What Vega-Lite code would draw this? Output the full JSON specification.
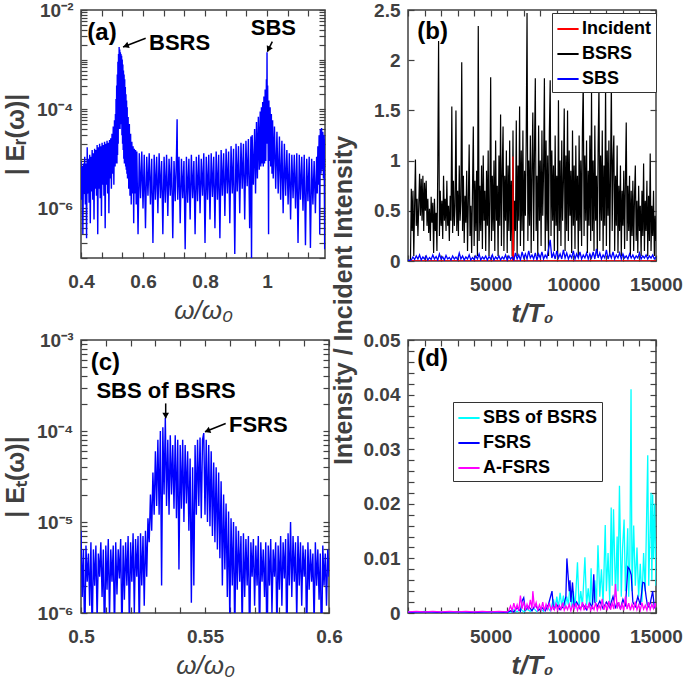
{
"$schema":"https://vega.github.io/schema/vega-lite/v6.json",
"padding":{"left":2,"top":0,"right":0,"bottom":0},
"config":{
 "font":"Liberation Sans",
 "view":{"stroke":"#404040","strokeWidth":1.5},
 "axis":{"ticks":true,"zindex":1,"labelFont":"Liberation Sans","labelFontSize":19,"labelFontWeight":"bold","labelColor":"#404040","tickColor":"#404040","tickSize":6,"offset":-6,"tickWidth":1.2,"tickOpacity":1,"domain":false,"grid":false,"titleFont":"Liberation Sans","titleFontSize":25,"titleFontWeight":"bold","titleColor":"#404040","labelFlush":false,"labelOverlap":false,"titlePadding":6},
 "axisX":{"labelPadding":14},
 "axisY":{"labelPadding":8},
 "legend":{"labelFont":"Liberation Sans","labelFontSize":18,"labelFontWeight":"bold","labelColor":"#000000","symbolType":"stroke","symbolStrokeWidth":2,"symbolSize":450,"strokeColor":"#333333","fillColor":"#ffffff","padding":4,"rowPadding":4,"labelOffset":2}
},
"datasets":{
"a":[{"x":0.4,"y":9e-6},{"x":0.402,"y":1.5e-6},{"x":0.404,"y":7e-6},{"x":0.406,"y":3e-7},{"x":0.408,"y":8e-6},{"x":0.41,"y":2e-6},{"x":0.412,"y":1.1e-5},{"x":0.414,"y":1.2e-6},{"x":0.416,"y":8e-6},{"x":0.418,"y":2.5e-7},{"x":0.42,"y":1.7e-5},{"x":0.422,"y":2e-6},{"x":0.424,"y":1e-5},{"x":0.426,"y":1.3e-6},{"x":0.428,"y":1.2e-5},{"x":0.43,"y":5e-7},{"x":0.432,"y":1.1e-5},{"x":0.434,"y":2.2e-6},{"x":0.436,"y":1.5e-5},{"x":0.438,"y":1.5e-6},{"x":0.44,"y":1.3e-5},{"x":0.442,"y":6e-7},{"x":0.444,"y":1.6e-5},{"x":0.446,"y":2.5e-6},{"x":0.448,"y":1.5e-5},{"x":0.45,"y":1.8e-6},{"x":0.452,"y":1.9e-5},{"x":0.454,"y":3e-7},{"x":0.456,"y":1.7e-5},{"x":0.458,"y":2.5e-6},{"x":0.46,"y":2e-5},{"x":0.462,"y":1.6e-6},{"x":0.464,"y":1.8e-5},{"x":0.466,"y":7e-7},{"x":0.468,"y":2.1e-5},{"x":0.47,"y":3e-6},{"x":0.472,"y":1.9e-5},{"x":0.474,"y":1.8e-6},{"x":0.476,"y":2.2e-5},{"x":0.478,"y":4e-7},{"x":0.48,"y":2e-5},{"x":0.482,"y":3e-6},{"x":0.484,"y":2.3e-5},{"x":0.486,"y":2e-6},{"x":0.488,"y":2.1e-5},{"x":0.49,"y":8e-7},{"x":0.492,"y":2.4e-5},{"x":0.494,"y":4e-6},{"x":0.496,"y":2.6e-5},{"x":0.498,"y":2.5e-6},{"x":0.5,"y":3.2e-5},{"x":0.502,"y":5e-6},{"x":0.504,"y":4.5e-5},{"x":0.506,"y":3e-6},{"x":0.508,"y":6e-5},{"x":0.51,"y":7e-6},{"x":0.511,"y":8e-5},{"x":0.512,"y":8e-6},{"x":0.513,"y":1.6e-4},{"x":0.514,"y":1e-5},{"x":0.515,"y":3e-4},{"x":0.516,"y":8e-6},{"x":0.517,"y":5e-4},{"x":0.518,"y":1.2e-5},{"x":0.519,"y":9e-4},{"x":0.52,"y":2e-5},{"x":0.521,"y":1.3e-3},{"x":0.522,"y":4e-5},{"x":0.523,"y":1.8e-3},{"x":0.524,"y":6e-5},{"x":0.525,"y":1.6e-3},{"x":0.526,"y":4e-5},{"x":0.527,"y":1.4e-3},{"x":0.528,"y":8e-5},{"x":0.529,"y":1.3e-3},{"x":0.53,"y":5e-5},{"x":0.531,"y":1.2e-3},{"x":0.532,"y":3e-5},{"x":0.533,"y":1e-3},{"x":0.534,"y":2e-5},{"x":0.535,"y":8e-4},{"x":0.536,"y":1.5e-5},{"x":0.537,"y":6e-4},{"x":0.538,"y":1e-5},{"x":0.539,"y":5e-4},{"x":0.54,"y":8e-6},{"x":0.541,"y":4e-4},{"x":0.542,"y":9e-6},{"x":0.543,"y":2.8e-4},{"x":0.544,"y":7e-6},{"x":0.545,"y":2e-4},{"x":0.546,"y":6e-6},{"x":0.547,"y":1.5e-4},{"x":0.548,"y":5e-6},{"x":0.549,"y":1.1e-4},{"x":0.55,"y":4e-6},{"x":0.552,"y":7e-5},{"x":0.554,"y":2.5e-6},{"x":0.556,"y":5e-5},{"x":0.558,"y":1.8e-6},{"x":0.56,"y":3.2e-5},{"x":0.562,"y":1.2e-6},{"x":0.564,"y":2.2e-5},{"x":0.566,"y":2e-6},{"x":0.568,"y":1.8e-5},{"x":0.57,"y":5e-7},{"x":0.572,"y":1.6e-5},{"x":0.574,"y":2e-6},{"x":0.576,"y":1.5e-5},{"x":0.578,"y":1.2e-6},{"x":0.58,"y":1.4e-5},{"x":0.584,"y":3e-7},{"x":0.588,"y":1.3e-5},{"x":0.592,"y":1.6e-6},{"x":0.596,"y":1.4e-5},{"x":0.6,"y":1e-6},{"x":0.604,"y":1.2e-5},{"x":0.608,"y":4e-7},{"x":0.612,"y":1.1e-5},{"x":0.616,"y":1.8e-6},{"x":0.62,"y":1.3e-5},{"x":0.624,"y":1.2e-6},{"x":0.628,"y":1e-5},{"x":0.632,"y":2e-7},{"x":0.636,"y":1.2e-5},{"x":0.64,"y":1.5e-6},{"x":0.644,"y":1.1e-5},{"x":0.648,"y":8e-7},{"x":0.652,"y":1.3e-5},{"x":0.656,"y":1.6e-6},{"x":0.66,"y":9e-6},{"x":0.664,"y":3e-7},{"x":0.668,"y":1.1e-5},{"x":0.672,"y":1.3e-6},{"x":0.676,"y":1.2e-5},{"x":0.68,"y":7e-7},{"x":0.684,"y":1e-5},{"x":0.688,"y":1.8e-6},{"x":0.692,"y":1.1e-5},{"x":0.696,"y":2.5e-7},{"x":0.7,"y":9e-6},{"x":0.704,"y":1.4e-6},{"x":0.708,"y":1.2e-5},{"x":0.71,"y":6.3e-5},{"x":0.712,"y":1.5e-6},{"x":0.716,"y":1.1e-5},{"x":0.72,"y":5e-7},{"x":0.724,"y":1e-5},{"x":0.728,"y":1.6e-6},{"x":0.732,"y":9e-6},{"x":0.736,"y":1.5e-7},{"x":0.74,"y":1.1e-5},{"x":0.744,"y":1.3e-6},{"x":0.748,"y":1e-5},{"x":0.752,"y":6e-7},{"x":0.756,"y":1.2e-5},{"x":0.76,"y":1.6e-6},{"x":0.764,"y":9e-6},{"x":0.768,"y":3e-7},{"x":0.772,"y":1.1e-5},{"x":0.776,"y":1.4e-6},{"x":0.78,"y":1.2e-5},{"x":0.784,"y":8e-7},{"x":0.788,"y":1e-5},{"x":0.792,"y":1.8e-6},{"x":0.796,"y":1.3e-5},{"x":0.8,"y":2e-7},{"x":0.804,"y":1.1e-5},{"x":0.808,"y":1.5e-6},{"x":0.812,"y":1.2e-5},{"x":0.816,"y":6e-7},{"x":0.82,"y":1.3e-5},{"x":0.824,"y":1.7e-6},{"x":0.828,"y":1.1e-5},{"x":0.832,"y":4e-7},{"x":0.836,"y":1.4e-5},{"x":0.84,"y":1.5e-6},{"x":0.844,"y":1.2e-5},{"x":0.848,"y":2.5e-7},{"x":0.852,"y":1.5e-5},{"x":0.856,"y":1.8e-6},{"x":0.86,"y":1.3e-5},{"x":0.864,"y":7e-7},{"x":0.868,"y":1.6e-5},{"x":0.872,"y":2e-6},{"x":0.876,"y":1.4e-5},{"x":0.88,"y":5e-7},{"x":0.884,"y":1.8e-5},{"x":0.888,"y":2e-6},{"x":0.892,"y":1.6e-5},{"x":0.896,"y":1.2e-7},{"x":0.9,"y":2e-5},{"x":0.904,"y":2.2e-6},{"x":0.908,"y":1.8e-5},{"x":0.912,"y":8e-7},{"x":0.916,"y":2.1e-5},{"x":0.92,"y":2.5e-6},{"x":0.924,"y":2e-5},{"x":0.928,"y":6e-7},{"x":0.932,"y":2.3e-5},{"x":0.936,"y":2.8e-6},{"x":0.94,"y":2.5e-5},{"x":0.944,"y":4e-7},{"x":0.948,"y":2.8e-5},{"x":0.95,"y":8e-8},{"x":0.952,"y":3e-5},{"x":0.956,"y":3e-6},{"x":0.96,"y":4e-5},{"x":0.963,"y":2e-6},{"x":0.966,"y":5.5e-5},{"x":0.969,"y":4e-6},{"x":0.972,"y":7e-5},{"x":0.975,"y":6e-6},{"x":0.978,"y":9e-5},{"x":0.98,"y":7e-6},{"x":0.982,"y":1.1e-4},{"x":0.984,"y":8e-6},{"x":0.986,"y":1.4e-4},{"x":0.988,"y":7e-6},{"x":0.99,"y":1.8e-4},{"x":0.992,"y":8e-6},{"x":0.994,"y":2.5e-4},{"x":0.996,"y":9e-6},{"x":0.998,"y":4e-4},{"x":0.999,"y":2e-5},{"x":1.0,"y":1.4e-3},{"x":1.001,"y":3e-5},{"x":1.002,"y":3e-4},{"x":1.004,"y":8e-6},{"x":1.005,"y":3e-7},{"x":1.006,"y":1.5e-4},{"x":1.008,"y":9e-6},{"x":1.01,"y":1.1e-4},{"x":1.012,"y":7e-6},{"x":1.014,"y":8e-5},{"x":1.016,"y":5e-6},{"x":1.018,"y":6e-5},{"x":1.02,"y":4e-6},{"x":1.024,"y":4.5e-5},{"x":1.028,"y":2.5e-6},{"x":1.032,"y":3.5e-5},{"x":1.036,"y":2e-6},{"x":1.04,"y":2.8e-5},{"x":1.044,"y":1.5e-6},{"x":1.048,"y":2.3e-5},{"x":1.052,"y":8e-7},{"x":1.056,"y":2e-5},{"x":1.06,"y":1.8e-6},{"x":1.064,"y":1.5e-5},{"x":1.068,"y":1.2e-6},{"x":1.072,"y":1.3e-5},{"x":1.076,"y":6e-7},{"x":1.08,"y":1.2e-5},{"x":1.084,"y":1.6e-6},{"x":1.088,"y":1.2e-5},{"x":1.092,"y":1e-6},{"x":1.096,"y":1.3e-5},{"x":1.1,"y":2e-7},{"x":1.104,"y":1.2e-5},{"x":1.108,"y":1.5e-6},{"x":1.112,"y":1.1e-5},{"x":1.116,"y":9e-7},{"x":1.12,"y":1.2e-5},{"x":1.124,"y":1.8e-7},{"x":1.128,"y":1e-5},{"x":1.132,"y":1.4e-6},{"x":1.136,"y":1.1e-5},{"x":1.14,"y":1.6e-7},{"x":1.144,"y":1e-5},{"x":1.148,"y":1.2e-6},{"x":1.152,"y":9e-6},{"x":1.156,"y":8e-7},{"x":1.16,"y":1.1e-5},{"x":1.162,"y":2e-6},{"x":1.164,"y":1.8e-5},{"x":1.166,"y":3e-6},{"x":1.168,"y":3e-5},{"x":1.17,"y":3e-7},{"x":1.172,"y":4e-5},{"x":1.174,"y":5e-6},{"x":1.176,"y":4.2e-5},{"x":1.178,"y":6e-6},{"x":1.18,"y":3.5e-5},{"x":1.182,"y":4e-6},{"x":1.184,"y":3e-5},{"x":1.186,"y":1.5e-7},{"x":1.188,"y":2.5e-5}],
"c":[{"x":0.5,"y":8e-6},{"x":0.5005,"y":1.5e-6},{"x":0.501,"y":5e-6},{"x":0.5015,"y":4e-7},{"x":0.502,"y":5.5e-6},{"x":0.5025,"y":2.2e-6},{"x":0.503,"y":4.5e-6},{"x":0.5035,"y":1.2e-6},{"x":0.504,"y":6e-6},{"x":0.5045,"y":5e-7},{"x":0.505,"y":5e-6},{"x":0.5055,"y":2e-6},{"x":0.506,"y":5.5e-6},{"x":0.5065,"y":8e-7},{"x":0.507,"y":4.5e-6},{"x":0.5075,"y":2.5e-6},{"x":0.508,"y":6e-6},{"x":0.5085,"y":1.5e-6},{"x":0.509,"y":5e-6},{"x":0.5095,"y":4e-7},{"x":0.51,"y":5.5e-6},{"x":0.5105,"y":1.8e-6},{"x":0.511,"y":6.5e-6},{"x":0.5115,"y":9e-7},{"x":0.512,"y":5e-6},{"x":0.5125,"y":2.2e-6},{"x":0.513,"y":5.5e-6},{"x":0.5135,"y":6e-7},{"x":0.514,"y":6e-6},{"x":0.5145,"y":1.6e-6},{"x":0.515,"y":5e-6},{"x":0.5155,"y":2.4e-6},{"x":0.516,"y":6.5e-6},{"x":0.5165,"y":5e-7},{"x":0.517,"y":5.5e-6},{"x":0.5175,"y":1.4e-6},{"x":0.518,"y":6e-6},{"x":0.5185,"y":2e-6},{"x":0.519,"y":7e-6},{"x":0.5195,"y":7e-7},{"x":0.52,"y":6e-6},{"x":0.5205,"y":2.2e-6},{"x":0.521,"y":7.5e-6},{"x":0.5215,"y":1e-6},{"x":0.522,"y":6.5e-6},{"x":0.5225,"y":2.5e-6},{"x":0.523,"y":7e-6},{"x":0.5235,"y":6e-7},{"x":0.524,"y":7.5e-6},{"x":0.5245,"y":2e-6},{"x":0.525,"y":7e-6},{"x":0.5255,"y":1.2e-6},{"x":0.526,"y":8e-6},{"x":0.5265,"y":2.5e-6},{"x":0.527,"y":1.1e-5},{"x":0.5275,"y":6e-6},{"x":0.528,"y":2e-5},{"x":0.5285,"y":8e-6},{"x":0.529,"y":3.5e-5},{"x":0.5295,"y":1.2e-5},{"x":0.53,"y":6e-5},{"x":0.5305,"y":1.5e-5},{"x":0.531,"y":8e-5},{"x":0.5315,"y":1.2e-5},{"x":0.532,"y":1e-4},{"x":0.5325,"y":2e-6},{"x":0.533,"y":1.1e-4},{"x":0.5335,"y":2e-5},{"x":0.534,"y":1.4e-4},{"x":0.5345,"y":1.5e-5},{"x":0.535,"y":8e-5},{"x":0.5355,"y":1.2e-5},{"x":0.536,"y":9e-5},{"x":0.5365,"y":2e-5},{"x":0.537,"y":7e-5},{"x":0.5375,"y":1.4e-5},{"x":0.538,"y":9e-5},{"x":0.5385,"y":1.1e-5},{"x":0.539,"y":8e-5},{"x":0.5395,"y":3e-6},{"x":0.54,"y":7e-5},{"x":0.5405,"y":1.4e-5},{"x":0.541,"y":8e-5},{"x":0.5415,"y":1e-5},{"x":0.542,"y":7e-5},{"x":0.5425,"y":1.6e-5},{"x":0.543,"y":6e-5},{"x":0.5435,"y":8e-6},{"x":0.544,"y":5e-5},{"x":0.5445,"y":1.3e-6},{"x":0.545,"y":4e-5},{"x":0.5455,"y":2e-6},{"x":0.546,"y":7e-5},{"x":0.5465,"y":1.2e-5},{"x":0.547,"y":8e-5},{"x":0.5475,"y":1.5e-5},{"x":0.548,"y":8.5e-5},{"x":0.5485,"y":1.1e-5},{"x":0.549,"y":8e-5},{"x":0.5495,"y":9.5e-5},{"x":0.55,"y":1.2e-5},{"x":0.5505,"y":8e-5},{"x":0.551,"y":1e-5},{"x":0.5515,"y":7e-5},{"x":0.552,"y":9e-6},{"x":0.5525,"y":6e-5},{"x":0.553,"y":7e-6},{"x":0.5535,"y":4.5e-5},{"x":0.554,"y":6e-6},{"x":0.5545,"y":4e-5},{"x":0.555,"y":5e-6},{"x":0.5555,"y":3.5e-5},{"x":0.556,"y":4e-6},{"x":0.5565,"y":2.8e-5},{"x":0.557,"y":2e-6},{"x":0.5575,"y":2e-5},{"x":0.558,"y":3e-6},{"x":0.5585,"y":1.6e-5},{"x":0.559,"y":1.5e-6},{"x":0.5595,"y":1.3e-5},{"x":0.56,"y":8e-7},{"x":0.5605,"y":1.1e-5},{"x":0.561,"y":2e-6},{"x":0.5615,"y":1e-5},{"x":0.562,"y":5e-7},{"x":0.5625,"y":9e-6},{"x":0.563,"y":1.8e-6},{"x":0.5635,"y":8e-6},{"x":0.564,"y":2.2e-6},{"x":0.5645,"y":7e-6},{"x":0.565,"y":6e-7},{"x":0.5655,"y":7.5e-6},{"x":0.566,"y":1.5e-6},{"x":0.5665,"y":6.5e-6},{"x":0.567,"y":2e-6},{"x":0.5675,"y":7e-6},{"x":0.568,"y":4e-7},{"x":0.5685,"y":6e-6},{"x":0.569,"y":2.5e-6},{"x":0.5695,"y":6.5e-6},{"x":0.57,"y":1.2e-6},{"x":0.5705,"y":5.5e-6},{"x":0.571,"y":2e-6},{"x":0.5715,"y":7e-6},{"x":0.572,"y":5e-7},{"x":0.5725,"y":6e-6},{"x":0.573,"y":2.2e-6},{"x":0.5735,"y":5e-6},{"x":0.574,"y":1.5e-6},{"x":0.5745,"y":6e-6},{"x":0.575,"y":3e-7},{"x":0.5755,"y":5.5e-6},{"x":0.576,"y":2e-6},{"x":0.5765,"y":6.5e-6},{"x":0.577,"y":1e-6},{"x":0.5775,"y":5e-6},{"x":0.578,"y":2.5e-6},{"x":0.5785,"y":6e-6},{"x":0.579,"y":6e-7},{"x":0.5795,"y":5.5e-6},{"x":0.58,"y":1.8e-6},{"x":0.5805,"y":7e-6},{"x":0.581,"y":1.2e-6},{"x":0.5815,"y":6e-6},{"x":0.582,"y":2.4e-6},{"x":0.5825,"y":6.5e-6},{"x":0.583,"y":4e-7},{"x":0.5835,"y":7.5e-6},{"x":0.584,"y":2e-6},{"x":0.5845,"y":1e-5},{"x":0.585,"y":1.5e-6},{"x":0.5855,"y":7e-6},{"x":0.586,"y":2.2e-6},{"x":0.5865,"y":6e-6},{"x":0.587,"y":8e-7},{"x":0.5875,"y":7e-6},{"x":0.588,"y":2e-6},{"x":0.5885,"y":6e-6},{"x":0.589,"y":1.2e-6},{"x":0.5895,"y":5.5e-6},{"x":0.59,"y":2.5e-6},{"x":0.5905,"y":5e-6},{"x":0.591,"y":5e-7},{"x":0.5915,"y":6e-6},{"x":0.592,"y":1.8e-6},{"x":0.5925,"y":5e-6},{"x":0.593,"y":2.2e-6},{"x":0.5935,"y":4.5e-6},{"x":0.594,"y":7e-7},{"x":0.5945,"y":6e-6},{"x":0.595,"y":2e-6},{"x":0.5955,"y":5e-6},{"x":0.596,"y":1.4e-6},{"x":0.5965,"y":4.5e-6},{"x":0.597,"y":3e-7},{"x":0.5975,"y":5.5e-6},{"x":0.598,"y":2e-6},{"x":0.5985,"y":4.5e-6},{"x":0.599,"y":1.2e-6},{"x":0.5995,"y":5e-6},{"x":0.6,"y":2.5e-6}],
"bs":[{"x":0,"y":0},{"x":150,"y":0},{"x":200,"y":0.72},{"x":250,"y":0.3},{"x":300,"y":0.7},{"x":350,"y":0.05},{"x":400,"y":0.55},{"x":450,"y":1.01},{"x":500,"y":0.35},{"x":550,"y":0.62},{"x":600,"y":0.25},{"x":650,"y":0.55},{"x":700,"y":0.87},{"x":750,"y":0.45},{"x":800,"y":0.82},{"x":850,"y":0.4},{"x":900,"y":0.85},{"x":950,"y":0.3},{"x":1000,"y":0.78},{"x":1050,"y":0.5},{"x":1100,"y":0.8},{"x":1150,"y":0.35},{"x":1200,"y":0.62},{"x":1250,"y":0.28},{"x":1300,"y":0.52},{"x":1350,"y":0.2},{"x":1400,"y":0.64},{"x":1450,"y":0.38},{"x":1500,"y":0.58},{"x":1550,"y":0.08},{"x":1600,"y":0.62},{"x":1650,"y":0.3},{"x":1700,"y":0.48},{"x":1750,"y":0.1},{"x":1800,"y":0.9},{"x":1850,"y":2.19},{"x":1900,"y":0.25},{"x":1950,"y":0.7},{"x":2000,"y":0.35},{"x":2050,"y":0.6},{"x":2100,"y":0.22},{"x":2150,"y":0.85},{"x":2200,"y":0.4},{"x":2250,"y":0.62},{"x":2300,"y":0.3},{"x":2350,"y":0.8},{"x":2400,"y":0.35},{"x":2450,"y":0.55},{"x":2500,"y":0.2},{"x":2550,"y":0.65},{"x":2600,"y":0.4},{"x":2650,"y":1.54},{"x":2700,"y":0.28},{"x":2750,"y":0.8},{"x":2800,"y":0.35},{"x":2850,"y":0.55},{"x":2900,"y":1.5},{"x":2950,"y":0.3},{"x":3000,"y":0.7},{"x":3050,"y":0.25},{"x":3100,"y":0.95},{"x":3150,"y":0.4},{"x":3200,"y":0.6},{"x":3250,"y":1.98},{"x":3300,"y":0.3},{"x":3350,"y":0.85},{"x":3400,"y":0.18},{"x":3450,"y":0.65},{"x":3500,"y":0.38},{"x":3550,"y":0.9},{"x":3600,"y":0.1},{"x":3650,"y":0.6},{"x":3700,"y":1.16},{"x":3750,"y":0.25},{"x":3800,"y":0.55},{"x":3850,"y":0.08},{"x":3900,"y":0.7},{"x":3950,"y":1.34},{"x":4000,"y":0.15},{"x":4050,"y":0.8},{"x":4100,"y":0.3},{"x":4150,"y":0.9},{"x":4200,"y":0.05},{"x":4250,"y":2.34},{"x":4300,"y":0.2},{"x":4350,"y":0.75},{"x":4400,"y":0.3},{"x":4450,"y":0.95},{"x":4500,"y":0.12},{"x":4550,"y":1.05},{"x":4600,"y":0.4},{"x":4650,"y":0.7},{"x":4700,"y":0.1},{"x":4750,"y":0.9},{"x":4800,"y":0.35},{"x":4850,"y":1.1},{"x":4900,"y":0.05},{"x":4950,"y":0.6},{"x":5000,"y":1.83},{"x":5050,"y":0.2},{"x":5100,"y":0.85},{"x":5150,"y":0.3},{"x":5200,"y":1.0},{"x":5250,"y":0.1},{"x":5300,"y":1.2},{"x":5350,"y":0.4},{"x":5400,"y":0.75},{"x":5450,"y":0.05},{"x":5500,"y":1.05},{"x":5550,"y":0.35},{"x":5600,"y":1.46},{"x":5650,"y":0.15},{"x":5700,"y":0.9},{"x":5750,"y":1.34},{"x":5800,"y":0.1},{"x":5850,"y":0.85},{"x":5900,"y":0.4},{"x":5950,"y":1.1},{"x":6000,"y":0.08},{"x":6050,"y":0.95},{"x":6100,"y":0.3},{"x":6150,"y":1.2},{"x":6200,"y":0.2},{"x":6250,"y":0.8},{"x":6300,"y":0.05},{"x":6350,"y":1.3},{"x":6400,"y":0.1},{"x":6450,"y":0.6},{"x":6500,"y":0.3},{"x":6550,"y":1.4},{"x":6600,"y":0.05},{"x":6650,"y":0.95},{"x":6700,"y":0.4},{"x":6750,"y":1.54},{"x":6800,"y":0.15},{"x":6850,"y":1.1},{"x":6900,"y":0.3},{"x":6950,"y":1.3},{"x":7000,"y":0.1},{"x":7050,"y":0.9},{"x":7100,"y":0.45},{"x":7150,"y":1.2},{"x":7200,"y":2.47},{"x":7250,"y":0.2},{"x":7300,"y":1.0},{"x":7350,"y":0.35},{"x":7400,"y":1.25},{"x":7450,"y":0.08},{"x":7500,"y":0.95},{"x":7550,"y":1.48},{"x":7600,"y":0.2},{"x":7650,"y":1.1},{"x":7700,"y":1.82},{"x":7750,"y":0.3},{"x":7800,"y":0.85},{"x":7850,"y":0.05},{"x":7900,"y":1.35},{"x":7950,"y":0.4},{"x":8000,"y":1.0},{"x":8050,"y":0.15},{"x":8100,"y":1.3},{"x":8150,"y":0.45},{"x":8200,"y":0.9},{"x":8250,"y":1.82},{"x":8300,"y":0.1},{"x":8350,"y":1.2},{"x":8400,"y":0.3},{"x":8450,"y":1.05},{"x":8500,"y":0.05},{"x":8550,"y":1.29},{"x":8600,"y":1.8},{"x":8650,"y":0.25},{"x":8700,"y":1.1},{"x":8750,"y":0.4},{"x":8800,"y":0.95},{"x":8850,"y":0.1},{"x":8900,"y":1.25},{"x":8950,"y":0.35},{"x":9000,"y":0.85},{"x":9050,"y":0.05},{"x":9100,"y":1.6},{"x":9150,"y":0.3},{"x":9200,"y":1.0},{"x":9250,"y":0.15},{"x":9300,"y":1.2},{"x":9350,"y":0.4},{"x":9400,"y":0.8},{"x":9450,"y":1.52},{"x":9500,"y":0.1},{"x":9550,"y":1.05},{"x":9600,"y":0.3},{"x":9650,"y":1.5},{"x":9700,"y":0.2},{"x":9750,"y":1.1},{"x":9800,"y":0.45},{"x":9850,"y":0.9},{"x":9900,"y":0.08},{"x":9950,"y":1.3},{"x":10000,"y":0.35},{"x":10050,"y":0.95},{"x":10100,"y":0.12},{"x":10150,"y":1.15},{"x":10200,"y":0.4},{"x":10250,"y":0.85},{"x":10300,"y":0.05},{"x":10350,"y":1.25},{"x":10400,"y":0.3},{"x":10450,"y":1.0},{"x":10500,"y":0.15},{"x":10550,"y":1.3},{"x":10600,"y":1.8},{"x":10650,"y":0.25},{"x":10700,"y":1.05},{"x":10750,"y":0.4},{"x":10800,"y":1.2},{"x":10850,"y":0.08},{"x":10900,"y":0.9},{"x":10950,"y":0.35},{"x":11000,"y":1.25},{"x":11050,"y":0.2},{"x":11100,"y":1.69},{"x":11150,"y":0.3},{"x":11200,"y":1.0},{"x":11250,"y":0.1},{"x":11300,"y":1.35},{"x":11350,"y":0.4},{"x":11400,"y":0.85},{"x":11450,"y":0.05},{"x":11500,"y":1.15},{"x":11550,"y":1.75},{"x":11600,"y":0.2},{"x":11650,"y":1.05},{"x":11700,"y":0.4},{"x":11750,"y":1.3},{"x":11800,"y":0.1},{"x":11850,"y":0.95},{"x":11900,"y":0.35},{"x":11950,"y":1.75},{"x":12000,"y":0.15},{"x":12050,"y":1.1},{"x":12100,"y":0.45},{"x":12150,"y":1.2},{"x":12200,"y":0.05},{"x":12250,"y":0.9},{"x":12300,"y":1.78},{"x":12350,"y":0.3},{"x":12400,"y":1.0},{"x":12450,"y":1.25},{"x":12500,"y":0.1},{"x":12550,"y":0.85},{"x":12600,"y":0.35},{"x":12650,"y":1.15},{"x":12700,"y":0.08},{"x":12750,"y":0.75},{"x":12800,"y":0.3},{"x":12850,"y":0.95},{"x":12900,"y":0.05},{"x":12950,"y":0.7},{"x":13000,"y":0.35},{"x":13050,"y":0.9},{"x":13100,"y":0.12},{"x":13150,"y":0.8},{"x":13200,"y":1.38},{"x":13250,"y":0.2},{"x":13300,"y":0.75},{"x":13350,"y":0.3},{"x":13400,"y":0.85},{"x":13450,"y":0.05},{"x":13500,"y":0.7},{"x":13550,"y":0.25},{"x":13600,"y":0.8},{"x":13650,"y":0.1},{"x":13700,"y":0.65},{"x":13750,"y":0.95},{"x":13800,"y":0.2},{"x":13850,"y":0.6},{"x":13900,"y":0.08},{"x":13950,"y":0.75},{"x":14000,"y":0.3},{"x":14050,"y":0.55},{"x":14100,"y":0.05},{"x":14150,"y":0.7},{"x":14200,"y":0.25},{"x":14250,"y":0.97},{"x":14300,"y":0.1},{"x":14350,"y":0.6},{"x":14400,"y":0.3},{"x":14450,"y":0.8},{"x":14500,"y":0.05},{"x":14550,"y":0.65},{"x":14600,"y":0.2},{"x":14650,"y":1.07},{"x":14700,"y":0.1},{"x":14750,"y":0.55},{"x":14800,"y":0.25},{"x":14850,"y":0.7},{"x":14900,"y":0.05},{"x":14950,"y":0.45},{"x":15000,"y":0.2}],
"inc":[{"x":0,"y":0.002},{"x":6320,"y":0.002},{"x":6335,"y":0.13},{"x":6345,"y":1.04},{"x":6365,"y":0.4},{"x":6385,"y":0.06},{"x":6420,"y":0.002},{"x":15000,"y":0.002}],
"sb":[{"x":0,"y":0.005},{"x":200,"y":0.01},{"x":300,"y":0.04},{"x":400,"y":0.015},{"x":500,"y":0.05},{"x":600,"y":0.02},{"x":700,"y":0.06},{"x":800,"y":0.01},{"x":900,"y":0.04},{"x":1000,"y":0.02},{"x":1100,"y":0.05},{"x":1200,"y":0.01},{"x":1300,"y":0.035},{"x":1400,"y":0.015},{"x":1500,"y":0.06},{"x":1600,"y":0.02},{"x":1700,"y":0.045},{"x":1800,"y":0.01},{"x":1900,"y":0.07},{"x":2000,"y":0.02},{"x":2100,"y":0.04},{"x":2200,"y":0.01},{"x":2300,"y":0.055},{"x":2400,"y":0.02},{"x":2500,"y":0.035},{"x":2600,"y":0.01},{"x":2700,"y":0.05},{"x":2800,"y":0.02},{"x":2900,"y":0.04},{"x":3000,"y":0.015},{"x":3100,"y":0.08},{"x":3200,"y":0.02},{"x":3300,"y":0.05},{"x":3400,"y":0.01},{"x":3500,"y":0.04},{"x":3600,"y":0.02},{"x":3700,"y":0.06},{"x":3800,"y":0.01},{"x":3900,"y":0.035},{"x":4000,"y":0.015},{"x":4100,"y":0.05},{"x":4200,"y":0.02},{"x":4300,"y":0.07},{"x":4400,"y":0.01},{"x":4500,"y":0.04},{"x":4600,"y":0.02},{"x":4700,"y":0.05},{"x":4800,"y":0.01},{"x":4900,"y":0.045},{"x":5000,"y":0.02},{"x":5100,"y":0.06},{"x":5200,"y":0.01},{"x":5300,"y":0.04},{"x":5400,"y":0.02},{"x":5500,"y":0.05},{"x":5600,"y":0.01},{"x":5700,"y":0.04},{"x":5800,"y":0.02},{"x":5900,"y":0.06},{"x":6000,"y":0.01},{"x":6100,"y":0.05},{"x":6200,"y":0.02},{"x":6300,"y":0.04},{"x":6400,"y":0.01},{"x":6500,"y":0.08},{"x":6600,"y":0.02},{"x":6700,"y":0.06},{"x":6800,"y":0.01},{"x":6900,"y":0.09},{"x":7000,"y":0.03},{"x":7100,"y":0.07},{"x":7200,"y":0.02},{"x":7300,"y":0.1},{"x":7400,"y":0.03},{"x":7500,"y":0.06},{"x":7600,"y":0.02},{"x":7700,"y":0.08},{"x":7800,"y":0.01},{"x":7900,"y":0.07},{"x":8000,"y":0.03},{"x":8100,"y":0.09},{"x":8200,"y":0.02},{"x":8300,"y":0.06},{"x":8400,"y":0.03},{"x":8500,"y":0.12},{"x":8600,"y":0.21},{"x":8700,"y":0.03},{"x":8800,"y":0.08},{"x":8900,"y":0.02},{"x":9000,"y":0.1},{"x":9100,"y":0.03},{"x":9200,"y":0.07},{"x":9300,"y":0.02},{"x":9400,"y":0.11},{"x":9500,"y":0.03},{"x":9600,"y":0.08},{"x":9700,"y":0.02},{"x":9800,"y":0.06},{"x":9900,"y":0.03},{"x":10000,"y":0.1},{"x":10100,"y":0.02},{"x":10200,"y":0.07},{"x":10300,"y":0.03},{"x":10400,"y":0.09},{"x":10500,"y":0.02},{"x":10600,"y":0.06},{"x":10700,"y":0.03},{"x":10800,"y":0.08},{"x":10900,"y":0.02},{"x":11000,"y":0.07},{"x":11100,"y":0.03},{"x":11200,"y":0.09},{"x":11300,"y":0.02},{"x":11400,"y":0.12},{"x":11500,"y":0.03},{"x":11600,"y":0.08},{"x":11700,"y":0.02},{"x":11800,"y":0.06},{"x":11900,"y":0.03},{"x":12000,"y":0.11},{"x":12100,"y":0.02},{"x":12200,"y":0.07},{"x":12300,"y":0.03},{"x":12400,"y":0.09},{"x":12500,"y":0.02},{"x":12600,"y":0.06},{"x":12700,"y":0.03},{"x":12800,"y":0.08},{"x":12900,"y":0.02},{"x":13000,"y":0.07},{"x":13100,"y":0.03},{"x":13200,"y":0.05},{"x":13300,"y":0.02},{"x":13400,"y":0.07},{"x":13500,"y":0.03},{"x":13600,"y":0.06},{"x":13700,"y":0.02},{"x":13800,"y":0.05},{"x":13900,"y":0.03},{"x":14000,"y":0.08},{"x":14100,"y":0.02},{"x":14200,"y":0.05},{"x":14300,"y":0.03},{"x":14400,"y":0.06},{"x":14500,"y":0.02},{"x":14600,"y":0.05},{"x":14700,"y":0.03},{"x":14800,"y":0.06},{"x":14900,"y":0.02},{"x":15000,"y":0.04}],
"d1":[{"x":0,"y":0.0002},{"x":500,"y":0.0001},{"x":1000,"y":0.0003},{"x":1500,"y":0.0001},{"x":2000,"y":0.0002},{"x":2500,"y":0.0001},{"x":3000,"y":0.0002},{"x":3500,"y":0.0001},{"x":4000,"y":0.0002},{"x":4500,"y":0.0001},{"x":5000,"y":0.0002},{"x":5500,"y":0.0001},{"x":6000,"y":0.0002},{"x":6200,"y":0.0001},{"x":6400,"y":0.0006},{"x":6600,"y":0.0002},{"x":6800,"y":0.0008},{"x":7000,"y":0.0002},{"x":7200,"y":0.0007},{"x":7400,"y":0.0003},{"x":7600,"y":0.0009},{"x":7800,"y":0.0002},{"x":8000,"y":0.0008},{"x":8200,"y":0.0003},{"x":8400,"y":0.0012},{"x":8600,"y":0.0004},{"x":8800,"y":0.0025},{"x":8900,"y":0.0008},{"x":9000,"y":0.003},{"x":9100,"y":0.001},{"x":9200,"y":0.0037},{"x":9300,"y":0.0012},{"x":9400,"y":0.0032},{"x":9500,"y":0.0008},{"x":9600,"y":0.003},{"x":9700,"y":0.0015},{"x":9800,"y":0.005},{"x":9900,"y":0.001},{"x":10000,"y":0.004},{"x":10100,"y":0.0008},{"x":10250,"y":0.0093},{"x":10350,"y":0.001},{"x":10450,"y":0.004},{"x":10550,"y":0.0012},{"x":10700,"y":0.0102},{"x":10800,"y":0.0015},{"x":10900,"y":0.0045},{"x":11000,"y":0.001},{"x":11075,"y":0.0082},{"x":11150,"y":0.0012},{"x":11300,"y":0.006},{"x":11400,"y":0.002},{"x":11490,"y":0.0124},{"x":11600,"y":0.003},{"x":11700,"y":0.008},{"x":11800,"y":0.0015},{"x":11930,"y":0.0161},{"x":12000,"y":0.004},{"x":12100,"y":0.011},{"x":12200,"y":0.002},{"x":12290,"y":0.0193},{"x":12350,"y":0.005},{"x":12430,"y":0.019},{"x":12550,"y":0.003},{"x":12650,"y":0.014},{"x":12700,"y":0.004},{"x":12790,"y":0.0233},{"x":12900,"y":0.003},{"x":12980,"y":0.012},{"x":13070,"y":0.0171},{"x":13150,"y":0.004},{"x":13290,"y":0.0155},{"x":13350,"y":0.003},{"x":13420,"y":0.01},{"x":13490,"y":0.041},{"x":13550,"y":0.004},{"x":13650,"y":0.016},{"x":13750,"y":0.005},{"x":13850,"y":0.012},{"x":13950,"y":0.003},{"x":14050,"y":0.009},{"x":14150,"y":0.002},{"x":14250,"y":0.011},{"x":14350,"y":0.004},{"x":14500,"y":0.0289},{"x":14560,"y":0.005},{"x":14700,"y":0.022},{"x":14750,"y":0.006},{"x":14800,"y":0.0217},{"x":14850,"y":0.01},{"x":14920,"y":0.02},{"x":15000,"y":0.005}],
"d2":[{"x":0,"y":0.0001},{"x":1000,"y":0.0002},{"x":2000,"y":0.0001},{"x":3000,"y":0.0002},{"x":4000,"y":0.0001},{"x":5000,"y":0.0002},{"x":6000,"y":0.0001},{"x":6200,"y":0.0004},{"x":6400,"y":0.0002},{"x":6600,"y":0.001},{"x":6800,"y":0.0003},{"x":6900,"y":0.0022},{"x":7000,"y":0.0028},{"x":7100,"y":0.0005},{"x":7300,"y":0.0012},{"x":7500,"y":0.0004},{"x":7700,"y":0.0015},{"x":7900,"y":0.0005},{"x":8100,"y":0.001},{"x":8300,"y":0.0004},{"x":8500,"y":0.0016},{"x":8710,"y":0.004},{"x":8800,"y":0.0008},{"x":9000,"y":0.0015},{"x":9200,"y":0.0006},{"x":9400,"y":0.0012},{"x":9550,"y":0.003},{"x":9610,"y":0.01},{"x":9680,"y":0.007},{"x":9750,"y":0.004},{"x":9800,"y":0.006},{"x":9850,"y":0.002},{"x":9950,"y":0.0056},{"x":10050,"y":0.001},{"x":10200,"y":0.002},{"x":10400,"y":0.0008},{"x":10600,"y":0.0015},{"x":10800,"y":0.0006},{"x":11000,"y":0.0018},{"x":11150,"y":0.001},{"x":11235,"y":0.0071},{"x":11300,"y":0.002},{"x":11450,"y":0.0012},{"x":11600,"y":0.0022},{"x":11800,"y":0.0008},{"x":12000,"y":0.002},{"x":12200,"y":0.001},{"x":12400,"y":0.003},{"x":12550,"y":0.001},{"x":12700,"y":0.0018},{"x":12850,"y":0.0008},{"x":13000,"y":0.0025},{"x":13150,"y":0.0012},{"x":13300,"y":0.0084},{"x":13400,"y":0.008},{"x":13500,"y":0.007},{"x":13600,"y":0.002},{"x":13750,"y":0.0012},{"x":13900,"y":0.003},{"x":14050,"y":0.0015},{"x":14200,"y":0.0056},{"x":14300,"y":0.0055},{"x":14400,"y":0.003},{"x":14500,"y":0.001},{"x":14650,"y":0.0018},{"x":14800,"y":0.004},{"x":14900,"y":0.001},{"x":15000,"y":0.0015}],
"d3":[{"x":0,"y":0.0002},{"x":500,"y":0.0003},{"x":1000,"y":0.0002},{"x":1500,"y":0.0003},{"x":2000,"y":0.0002},{"x":2500,"y":0.0003},{"x":3000,"y":0.0002},{"x":3500,"y":0.0003},{"x":4000,"y":0.0002},{"x":4500,"y":0.0003},{"x":5000,"y":0.0002},{"x":5500,"y":0.0003},{"x":6000,"y":0.0002},{"x":6100,"y":0.0005},{"x":6200,"y":0.0013},{"x":6300,"y":0.0004},{"x":6400,"y":0.0018},{"x":6500,"y":0.0006},{"x":6600,"y":0.0015},{"x":6700,"y":0.0004},{"x":6800,"y":0.0032},{"x":6900,"y":0.0008},{"x":7000,"y":0.0021},{"x":7100,"y":0.0005},{"x":7200,"y":0.0016},{"x":7300,"y":0.0006},{"x":7400,"y":0.0024},{"x":7500,"y":0.0008},{"x":7550,"y":0.004},{"x":7650,"y":0.0009},{"x":7750,"y":0.0019},{"x":7850,"y":0.0005},{"x":7950,"y":0.0015},{"x":8050,"y":0.0006},{"x":8150,"y":0.002},{"x":8250,"y":0.0004},{"x":8350,"y":0.0016},{"x":8450,"y":0.0007},{"x":8550,"y":0.0018},{"x":8650,"y":0.0005},{"x":8750,"y":0.0013},{"x":8850,"y":0.0006},{"x":8950,"y":0.0017},{"x":9050,"y":0.0005},{"x":9150,"y":0.0014},{"x":9250,"y":0.0007},{"x":9350,"y":0.0019},{"x":9450,"y":0.0005},{"x":9550,"y":0.0013},{"x":9650,"y":0.0006},{"x":9750,"y":0.0016},{"x":9850,"y":0.0004},{"x":9950,"y":0.0015},{"x":10050,"y":0.0007},{"x":10150,"y":0.0018},{"x":10250,"y":0.0005},{"x":10350,"y":0.0014},{"x":10450,"y":0.0006},{"x":10550,"y":0.002},{"x":10650,"y":0.0005},{"x":10750,"y":0.0015},{"x":10850,"y":0.0007},{"x":10950,"y":0.0017},{"x":11050,"y":0.0005},{"x":11150,"y":0.0013},{"x":11250,"y":0.0006},{"x":11350,"y":0.0019},{"x":11450,"y":0.0005},{"x":11550,"y":0.0014},{"x":11650,"y":0.0007},{"x":11750,"y":0.0026},{"x":11850,"y":0.0006},{"x":11950,"y":0.0016},{"x":12050,"y":0.0005},{"x":12150,"y":0.0022},{"x":12250,"y":0.0006},{"x":12350,"y":0.0018},{"x":12450,"y":0.0007},{"x":12550,"y":0.0053},{"x":12650,"y":0.0008},{"x":12750,"y":0.002},{"x":12850,"y":0.0006},{"x":12950,"y":0.0017},{"x":13050,"y":0.0005},{"x":13150,"y":0.003},{"x":13250,"y":0.0007},{"x":13350,"y":0.0018},{"x":13450,"y":0.0005},{"x":13550,"y":0.0016},{"x":13650,"y":0.0007},{"x":13750,"y":0.0021},{"x":13850,"y":0.0006},{"x":13950,"y":0.0015},{"x":14050,"y":0.0005},{"x":14150,"y":0.0019},{"x":14250,"y":0.0007},{"x":14350,"y":0.0014},{"x":14450,"y":0.0005},{"x":14550,"y":0.002},{"x":14650,"y":0.0006},{"x":14750,"y":0.0016},{"x":14850,"y":0.0008},{"x":14950,"y":0.0018},{"x":15000,"y":0.001}]
},
"concat":[
{
 "width":244,"height":248,
 "layer":[
  {"data":{"name":"a"},"mark":{"type":"line","color":"#0000ff","strokeWidth":1.4,"clip":true},
   "encoding":{
    "x":{"field":"x","type":"quantitative","scale":{"domain":[0.4,1.187],"nice":false,"zero":false},
     "axis":{"orient":"bottom","values":[0.4,0.46667,0.53333,0.6,0.66667,0.73333,0.8,0.86667,0.93333,1,1.06667,1.13333],"format":"~g","labelExpr":"indexof([0.4,0.6,0.8,1],datum.value)>=0?datum.label:''","title":"ω/ω₀","titleFontWeight":"normal","titleFontStyle":"italic","titleFontSize":26}},
    "y":{"field":"y","type":"quantitative","scale":{"type":"log","domain":[1e-7,0.01],"nice":false},
     "axis":{"orient":"left","values":[1e-7,2e-7,3e-7,4e-7,5e-7,6e-7,7e-7,8e-7,9e-7,1e-6,2e-6,3e-6,4e-6,5e-6,6e-6,7e-6,8e-6,9e-6,1e-5,2e-5,3e-5,4e-5,5e-5,6e-5,7e-5,8e-5,9e-5,0.0001,0.0002,0.0003,0.0004,0.0005,0.0006,0.0007,0.0008,0.0009,0.001,0.002,0.003,0.004,0.005,0.006,0.007,0.008,0.009,0.01],"labelExpr":"datum.value==0.01?'10⁻²':datum.value==0.0001?'10⁻⁴':datum.value==0.000001?'10⁻⁶':''","title":"| Eᵣ(ω)|","titlePadding":8}}}},
  {"data":{"values":[{"x":0.4,"y":1e-7}]},"mark":{"type":"point","opacity":0},
   "encoding":{
    "x":{"field":"x","type":"quantitative","axis":{"orient":"top","values":[0.4,0.46667,0.53333,0.6,0.66667,0.73333,0.8,0.86667,0.93333,1,1.06667,1.13333],"labels":false,"title":null}},
    "y":{"field":"y","type":"quantitative","axis":{"orient":"right","values":[1e-7,2e-7,3e-7,4e-7,5e-7,6e-7,7e-7,8e-7,9e-7,1e-6,2e-6,3e-6,4e-6,5e-6,6e-6,7e-6,8e-6,9e-6,1e-5,2e-5,3e-5,4e-5,5e-5,6e-5,7e-5,8e-5,9e-5,0.0001,0.0002,0.0003,0.0004,0.0005,0.0006,0.0007,0.0008,0.0009,0.001,0.002,0.003,0.004,0.005,0.006,0.007,0.008,0.009,0.01],"labels":false,"title":null}}}},
  {"data":{"values":[{"x":0.4204,"y":0.00339,"t":"(a)"}]},"mark":{"type":"text","align":"left","baseline":"middle","fontSize":24,"fontWeight":"bold","color":"#000000"},
   "encoding":{"x":{"field":"x","type":"quantitative","axis":null},"y":{"field":"y","type":"quantitative","axis":null},"text":{"field":"t"}}},
  {"data":{"values":[{"x":0.6194,"y":0.00213,"t":"BSRS"},{"x":0.9474,"y":0.00427,"t":"SBS"}]},"mark":{"type":"text","align":"left","baseline":"middle","fontSize":22,"fontWeight":"bold","color":"#000000"},
   "encoding":{"x":{"field":"x","type":"quantitative","axis":null},"y":{"field":"y","type":"quantitative","axis":null},"text":{"field":"t"}}},
  {"data":{"values":[{"x":0.6086,"y":0.00269,"x2":0.5355,"y2":0.0018},{"x":1.0171,"y":0.0023,"x2":1.001,"y2":0.00145}]},"mark":{"type":"rule","color":"#000000","strokeWidth":1.5},
   "encoding":{"x":{"field":"x","type":"quantitative","axis":null},"y":{"field":"y","type":"quantitative","axis":null},"x2":{"field":"x2"},"y2":{"field":"y2"}}},
  {"data":{"values":[{"x":0.5474,"y":0.00191}]},"mark":{"type":"point","shape":"triangle","filled":true,"size":45,"color":"#000000","opacity":1,"angle":249},
   "encoding":{"x":{"field":"x","type":"quantitative","axis":null},"y":{"field":"y","type":"quantitative","axis":null}}},
  {"data":{"values":[{"x":1.0061,"y":0.00167}]},"mark":{"type":"point","shape":"triangle","filled":true,"size":45,"color":"#000000","opacity":1,"angle":207},
   "encoding":{"x":{"field":"x","type":"quantitative","axis":null},"y":{"field":"y","type":"quantitative","axis":null}}}
 ],
 "resolve":{"axis":{"x":"independent","y":"independent"}}
},
{
 "width":248,"height":251,
 "layer":[
  {"data":{"name":"bs"},"mark":{"type":"line","strokeWidth":1.2,"clip":true},
   "encoding":{
    "x":{"field":"x","type":"quantitative","scale":{"domain":[0,15000],"nice":false,"zero":false},
     "axis":{"orient":"bottom","values":[0,1000,2000,3000,4000,5000,6000,7000,8000,9000,10000,11000,12000,13000,14000,15000],"format":"d","labelExpr":"datum.value==5000||datum.value==10000||datum.value==15000?datum.label:''","title":"t/T₀","titleFontStyle":"italic","titleFontSize":26}},
    "y":{"field":"y","type":"quantitative","scale":{"domain":[0,2.5],"nice":false},
     "axis":{"orient":"left","values":[0,0.5,1,1.5,2,2.5],"format":"~g","title":null}},
    "color":{"datum":"BSRS","type":"nominal","scale":{"domain":["Incident","BSRS","SBS"],"range":["#ff0000","#000000","#0000ff"]},
     "legend":{"title":null,"orient":"none","legendX":144,"legendY":3}}}},
  {"data":{"name":"inc"},"mark":{"type":"line","strokeWidth":1.3,"clip":true},
   "encoding":{"x":{"field":"x","type":"quantitative","axis":null},"y":{"field":"y","type":"quantitative","axis":null},"color":{"datum":"Incident","type":"nominal"}}},
  {"data":{"name":"sb"},"mark":{"type":"line","strokeWidth":1.3,"clip":true},
   "encoding":{"x":{"field":"x","type":"quantitative","axis":null},"y":{"field":"y","type":"quantitative","axis":null},"color":{"datum":"SBS","type":"nominal"}}},
  {"data":{"values":[{"x":0,"y":0}]},"mark":{"type":"point","opacity":0},
   "encoding":{
    "x":{"field":"x","type":"quantitative","axis":{"orient":"top","values":[0,1000,2000,3000,4000,5000,6000,7000,8000,9000,10000,11000,12000,13000,14000,15000],"labels":false,"title":null}},
    "y":{"field":"y","type":"quantitative","axis":{"orient":"right","values":[0,0.5,1,1.5,2,2.5],"labels":false,"title":null}}}},
  {"data":{"values":[{"x":563,"y":2.284,"t":"(b)"}]},"mark":{"type":"text","align":"left","baseline":"middle","fontSize":24,"fontWeight":"bold","color":"#000000"},
   "encoding":{"x":{"field":"x","type":"quantitative","axis":null},"y":{"field":"y","type":"quantitative","axis":null},"text":{"field":"t"}}}
 ],
 "resolve":{"axis":{"x":"independent","y":"independent"}}
},
{
 "width":248,"height":273,
 "layer":[
  {"data":{"name":"c"},"mark":{"type":"line","color":"#0000ff","strokeWidth":1.4,"clip":true},
   "encoding":{
    "x":{"field":"x","type":"quantitative","scale":{"domain":[0.5,0.6],"nice":false,"zero":false},
     "axis":{"orient":"bottom","values":[0.5,0.51,0.52,0.53,0.54,0.55,0.56,0.57,0.58,0.59,0.6],"format":"~g","labelExpr":"indexof([0.5,0.55,0.6],datum.value)>=0?datum.label:''","title":"ω/ω₀","titleFontWeight":"normal","titleFontStyle":"italic","titleFontSize":26}},
    "y":{"field":"y","type":"quantitative","scale":{"type":"log","domain":[1e-6,0.001],"nice":false},
     "axis":{"orient":"left","values":[1e-6,2e-6,3e-6,4e-6,5e-6,6e-6,7e-6,8e-6,9e-6,1e-5,2e-5,3e-5,4e-5,5e-5,6e-5,7e-5,8e-5,9e-5,0.0001,0.0002,0.0003,0.0004,0.0005,0.0006,0.0007,0.0008,0.0009,0.001],"labelExpr":"datum.value==0.001?'10⁻³':datum.value==0.0001?'10⁻⁴':datum.value==0.00001?'10⁻⁵':datum.value==0.000001?'10⁻⁶':''","title":"| Eₜ(ω)|","titlePadding":8}}}},
  {"data":{"values":[{"x":0.5,"y":1e-6}]},"mark":{"type":"point","opacity":0},
   "encoding":{
    "x":{"field":"x","type":"quantitative","axis":{"orient":"top","values":[0.5,0.51,0.52,0.53,0.54,0.55,0.56,0.57,0.58,0.59,0.6],"labels":false,"title":null}},
    "y":{"field":"y","type":"quantitative","axis":{"orient":"right","values":[1e-6,2e-6,3e-6,4e-6,5e-6,6e-6,7e-6,8e-6,9e-6,1e-5,2e-5,3e-5,4e-5,5e-5,6e-5,7e-5,8e-5,9e-5,0.0001,0.0002,0.0003,0.0004,0.0005,0.0006,0.0007,0.0008,0.0009,0.001],"labels":false,"title":null}}}},
  {"data":{"values":[{"x":0.5039,"y":0.000553,"t":"(c)"}]},"mark":{"type":"text","align":"left","baseline":"middle","fontSize":24,"fontWeight":"bold","color":"#000000"},
   "encoding":{"x":{"field":"x","type":"quantitative","axis":null},"y":{"field":"y","type":"quantitative","axis":null},"text":{"field":"t"}}},
  {"data":{"values":[{"x":0.5343,"y":0.000275,"t":"SBS of BSRS"}]},"mark":{"type":"text","align":"center","baseline":"middle","fontSize":22,"fontWeight":"bold","color":"#000000"},
   "encoding":{"x":{"field":"x","type":"quantitative","axis":null},"y":{"field":"y","type":"quantitative","axis":null},"text":{"field":"t"}}},
  {"data":{"values":[{"x":0.55968,"y":0.000116,"t":"FSRS"}]},"mark":{"type":"text","align":"left","baseline":"middle","fontSize":22,"fontWeight":"bold","color":"#000000"},
   "encoding":{"x":{"field":"x","type":"quantitative","axis":null},"y":{"field":"y","type":"quantitative","axis":null},"text":{"field":"t"}}},
  {"data":{"values":[{"x":0.53415,"y":0.000201,"x2":0.53415,"y2":0.000138},{"x":0.55834,"y":0.000121,"x2":0.55,"y2":0.000098}]},"mark":{"type":"rule","color":"#000000","strokeWidth":1.5},
   "encoding":{"x":{"field":"x","type":"quantitative","axis":null},"y":{"field":"y","type":"quantitative","axis":null},"x2":{"field":"x2"},"y2":{"field":"y2"}}},
  {"data":{"values":[{"x":0.53415,"y":0.000151}]},"mark":{"type":"point","shape":"triangle","filled":true,"size":45,"color":"#000000","opacity":1,"angle":180},
   "encoding":{"x":{"field":"x","type":"quantitative","axis":null},"y":{"field":"y","type":"quantitative","axis":null}}},
  {"data":{"values":[{"x":0.5513,"y":0.000101}]},"mark":{"type":"point","shape":"triangle","filled":true,"size":45,"color":"#000000","opacity":1,"angle":248},
   "encoding":{"x":{"field":"x","type":"quantitative","axis":null},"y":{"field":"y","type":"quantitative","axis":null}}}
 ],
 "resolve":{"axis":{"x":"independent","y":"independent"}}
},
{
 "width":248,"height":273,
 "layer":[
  {"data":{"name":"d1"},"mark":{"type":"line","strokeWidth":1.3,"clip":true},
   "encoding":{
    "x":{"field":"x","type":"quantitative","scale":{"domain":[0,15000],"nice":false,"zero":false},
     "axis":{"orient":"bottom","values":[0,1000,2000,3000,4000,5000,6000,7000,8000,9000,10000,11000,12000,13000,14000,15000],"format":"d","labelExpr":"datum.value==5000||datum.value==10000||datum.value==15000?datum.label:''","title":"t/T₀","titleFontStyle":"italic","titleFontSize":26}},
    "y":{"field":"y","type":"quantitative","scale":{"domain":[0,0.05],"nice":false},
     "axis":{"orient":"left","values":[0,0.002,0.004,0.006,0.008,0.01,0.012,0.014,0.016,0.018,0.02,0.022,0.024,0.026,0.028,0.03,0.032,0.034,0.036,0.038,0.04,0.042,0.044,0.046,0.048,0.05],"format":"~g","labelExpr":"indexof([0,0.01,0.02,0.03,0.04,0.05],datum.value)>=0?datum.label:''","title":"Intensity / Incident Intensity","titleX":-58,"titleY":-40}},
    "color":{"datum":"SBS of BSRS","type":"nominal","scale":{"domain":["SBS of BSRS","FSRS","A-FSRS"],"range":["#00ffff","#0000ff","#ff00ff"]},
     "legend":{"title":null,"orient":"none","legendX":45,"legendY":62}}}},
  {"data":{"name":"d2"},"mark":{"type":"line","strokeWidth":1.3,"clip":true},
   "encoding":{"x":{"field":"x","type":"quantitative","axis":null},"y":{"field":"y","type":"quantitative","axis":null},"color":{"datum":"FSRS","type":"nominal"}}},
  {"data":{"name":"d3"},"mark":{"type":"line","strokeWidth":1.3,"clip":true},
   "encoding":{"x":{"field":"x","type":"quantitative","axis":null},"y":{"field":"y","type":"quantitative","axis":null},"color":{"datum":"A-FSRS","type":"nominal"}}},
  {"data":{"values":[{"x":0,"y":0}]},"mark":{"type":"point","opacity":0},
   "encoding":{
    "x":{"field":"x","type":"quantitative","axis":{"orient":"top","values":[0,1000,2000,3000,4000,5000,6000,7000,8000,9000,10000,11000,12000,13000,14000,15000],"labels":false,"title":null}},
    "y":{"field":"y","type":"quantitative","axis":{"orient":"right","values":[0,0.002,0.004,0.006,0.008,0.01,0.012,0.014,0.016,0.018,0.02,0.022,0.024,0.026,0.028,0.03,0.032,0.034,0.036,0.038,0.04,0.042,0.044,0.046,0.048,0.05],"labels":false,"title":null}}}},
  {"data":{"values":[{"x":563,"y":0.0466,"t":"(d)"}]},"mark":{"type":"text","align":"left","baseline":"middle","fontSize":24,"fontWeight":"bold","color":"#000000"},
   "encoding":{"x":{"field":"x","type":"quantitative","axis":null},"y":{"field":"y","type":"quantitative","axis":null},"text":{"field":"t"}}}
 ],
 "resolve":{"axis":{"x":"independent","y":"independent"}}
}
],
"columns":2,
"bounds":"flush",
"align":"each",
"spacing":{"row":79,"column":79},
"resolve":{"scale":{"color":"independent"},"legend":{"color":"independent"}}
}
